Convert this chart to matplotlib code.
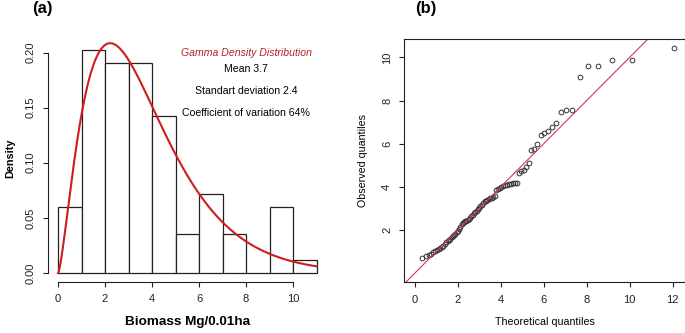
import math
import numpy as np
import matplotlib
matplotlib.use('Agg')
import matplotlib.pyplot as plt

plt.rcParams['font.family'] = ['Liberation Sans', 'DejaVu Sans']

# sorted plot biomass values (Mg/0.01ha)
biomass = [0.70, 0.79, 0.85, 0.91, 0.97,
           1.03, 1.08, 1.12, 1.17, 1.22, 1.28, 1.36, 1.45, 1.50, 1.55, 1.60, 1.66, 1.72, 1.78, 1.84, 1.90, 1.97,
           2.05, 2.15, 2.27, 2.33, 2.36, 2.40, 2.44, 2.48, 2.53, 2.58, 2.63, 2.70, 2.78, 2.84, 2.90, 2.97,
           3.03, 3.10, 3.16, 3.25, 3.33, 3.37, 3.40, 3.44, 3.47, 3.50, 3.53, 3.56, 3.88, 3.92, 3.95, 3.98,
           4.04, 4.07, 4.10, 4.12, 4.14, 4.16, 4.18, 4.20, 4.64, 4.72, 4.80, 4.90,
           5.12, 5.72, 5.77,
           6.01, 6.40, 6.52, 6.59, 6.76, 6.98,
           7.48, 7.54, 7.58,
           9.09, 9.58, 9.58, 9.87, 9.90,
           10.42]
bin_edges = list(range(0, 12))

# fitted gamma
gamma_shape = 2.5
gamma_rate = 0.676

stats_lines = ['Mean 3.7', 'Standart deviation 2.4', 'Coefficient of variation 64%']


def dgamma(x, shape, rate):
    x = np.asarray(x, dtype=float)
    out = np.zeros_like(x)
    pos = x > 0
    out[pos] = np.exp((shape - 1) * np.log(x[pos]) - rate * x[pos]
                      + shape * np.log(rate) - math.lgamma(shape))
    return out


def qgamma(p, shape, rate):
    # numeric inverse of the cdf
    grid = np.linspace(0, 60 / rate, 60001)
    pdf = dgamma(grid, shape, rate)
    cdf = np.concatenate([[0], np.cumsum((pdf[1:] + pdf[:-1]) / 2 * (grid[1] - grid[0]))])
    return np.interp(p, cdf, grid)


fig = plt.figure(figsize=(6.85, 3.33), dpi=100)
ax1 = fig.add_axes([0.0696, 0.1526, 0.4076, 0.7453])
ax2 = fig.add_axes([0.5902, 0.1523, 0.4095, 0.7297])

edge = '#222222'
tick_kw = dict(direction='out', length=3.8, width=0.8, labelsize=8, colors=edge, pad=5)

# (a) histogram + gamma density
ax1.hist(biomass, bins=bin_edges, density=True, facecolor='white', edgecolor=edge, linewidth=0.9)
xs = np.linspace(bin_edges[0], bin_edges[-1], 500)
dens = dgamma(xs, gamma_shape, gamma_rate)
ax1.plot(xs, dens, color='#d01c1c', lw=1.5)

counts, _ = np.histogram(biomass, bins=bin_edges, density=True)
ymax = max(counts.max(), dens.max())
xr = bin_edges[-1] - bin_edges[0]
ax1.set_xlim(bin_edges[0] - 0.04 * xr, bin_edges[-1] + 0.04 * xr)
ax1.set_ylim(-0.04 * ymax, 1.04 * ymax)

for s in ['top', 'right']:
    ax1.spines[s].set_visible(False)
ax1.spines['left'].set_bounds(0, 0.2)
ax1.spines['bottom'].set_bounds(0, 10)
for s in ['left', 'bottom']:
    ax1.spines[s].set_linewidth(0.8)
    ax1.spines[s].set_color(edge)
ax1.set_xticks(range(0, 11, 2))
yt = [0, 0.05, 0.10, 0.15, 0.20]
ax1.set_yticks(yt)
ax1.set_yticklabels(['%.2f' % v for v in yt], rotation=90, va='center')
ax1.tick_params(**tick_kw)
ax1.set_xlabel('Biomass Mg/0.01ha', fontsize=9.7, fontweight='bold', labelpad=8)
ax1.set_ylabel('Density', fontsize=7.8, fontweight='bold', labelpad=7)

ax1.text(8, 0.2, 'Gamma Density Distribution', color='#b5202a', style='italic',
         fontsize=7.6, ha='center', va='center')
for y, t in zip([0.185, 0.165, 0.145], stats_lines):
    ax1.text(8, y, t, fontsize=7.6, ha='center', va='center', color='black')

# (b) QQ plot
n = len(biomass)
pp = (np.arange(1, n + 1) - 0.5) / n
theo = qgamma(pp, gamma_shape, gamma_rate)
ax2.plot(theo, sorted(biomass), linestyle='', marker='o', ms=3.4, mfc='none',
         mec='#333333', mew=0.7)
ax2.margins(0.04)
ax2.axline((0, 0), slope=1, color='#c83c5a', lw=0.8)
ax2.set_xticks(range(0, 13, 2))
ax2.set_yticks(range(2, 11, 2))
ax2.set_yticklabels([str(v) for v in range(2, 11, 2)], rotation=90, va='center')
ax2.tick_params(**tick_kw)
for s in ax2.spines.values():
    s.set_linewidth(0.8)
    s.set_color(edge)
ax2.set_xlabel('Theoretical quantiles', fontsize=7.7, labelpad=9)
ax2.set_ylabel('Observed quantiles', fontsize=7.7, labelpad=10)

fig.text(32 / 685, 1 - 8 / 333, '(a)', fontsize=12, fontweight='bold', va='center', ha='left')
fig.text(415 / 685, 1 - 8 / 333, '(b)', fontsize=12, fontweight='bold', va='center', ha='left')

fig.savefig('out.png', dpi=100)
